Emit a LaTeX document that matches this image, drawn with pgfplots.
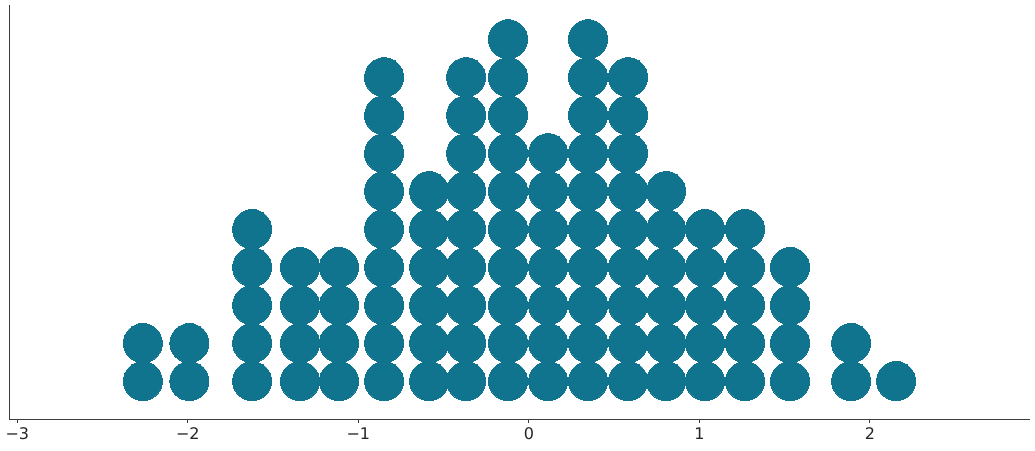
\documentclass[border=0pt]{standalone}
\usepackage{pgfplots}
\pgfplotsset{compat=1.18}
\usepackage{fontspec}
\setmainfont{DejaVu Sans}
\definecolor{dotc}{RGB}{17,116,143}
\definecolor{axc}{RGB}{60,60,60}
\begin{document}
\begin{tikzpicture}
\begin{axis}[
  at={(0,0)}, anchor=south west,
  scale only axis, width=1021pt, height=414pt,
  xmin=-3.049, xmax=2.939, ymin=0, ymax=10.9,
  axis x line*=bottom, axis y line*=left,
  axis line style={axc, line width=0.8pt},
  xtick={-3,-2,-1,0,1,2},
  xticklabels={−3,−2,−1,0,1,2},
  ytick=\empty,
  tick align=outside, major tick length=3.5pt,
  tick style={axc, line width=0.8pt},
  x tick label style={font=\fontsize{16}{19}\selectfont, text=black!85, yshift=-2pt},
  clip=false,
]
\addplot[only marks, color=dotc, mark=*, mark size=19.5pt, mark options={solid, draw=dotc, fill=dotc, line width=0pt}] table {
x y
-2.264 1
-2.264 2
-1.991 1
-1.991 2
-1.623 1
-1.623 2
-1.623 3
-1.623 4
-1.623 5
-1.342 1
-1.342 2
-1.342 3
-1.342 4
-1.114 1
-1.114 2
-1.114 3
-1.114 4
-0.849 1
-0.849 2
-0.849 3
-0.849 4
-0.849 5
-0.849 6
-0.849 7
-0.849 8
-0.849 9
-0.585 1
-0.585 2
-0.585 3
-0.585 4
-0.585 5
-0.585 6
-0.368 1
-0.368 2
-0.368 3
-0.368 4
-0.368 5
-0.368 6
-0.368 7
-0.368 8
-0.368 9
-0.122 1
-0.122 2
-0.122 3
-0.122 4
-0.122 5
-0.122 6
-0.122 7
-0.122 8
-0.122 9
-0.122 10
0.113 1
0.113 2
0.113 3
0.113 4
0.113 5
0.113 6
0.113 7
0.347 1
0.347 2
0.347 3
0.347 4
0.347 5
0.347 6
0.347 7
0.347 8
0.347 9
0.347 10
0.582 1
0.582 2
0.582 3
0.582 4
0.582 5
0.582 6
0.582 7
0.582 8
0.582 9
0.805 1
0.805 2
0.805 3
0.805 4
0.805 5
0.805 6
1.033 1
1.033 2
1.033 3
1.033 4
1.033 5
1.268 1
1.268 2
1.268 3
1.268 4
1.268 5
1.532 1
1.532 2
1.532 3
1.532 4
1.890 1
1.890 2
2.154 1
};
\end{axis}
\pgfresetboundingbox
\path (-9pt,-31pt) rectangle (1026pt,419pt);
\end{tikzpicture}
\end{document}
